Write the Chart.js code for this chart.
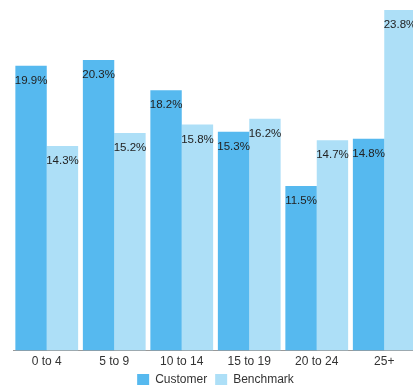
<!DOCTYPE html>
<html>
<head>
<meta charset="utf-8">
<script src="https://cdn.jsdelivr.net/npm/chart.js@4/dist/chart.umd.min.js"></script>
<style>
  html, body { margin: 0; padding: 0; background: #fff; overflow: hidden; }
  #wrap { width: 418px; height: 385px; }
</style>
</head>
<body>
<div id="wrap"><canvas id="barChart" width="418" height="385"></canvas></div>
<script>
// Datos
const categories = ["0 to 4", "5 to 9", "10 to 14", "15 to 19", "20 to 24", "25+"];
const customer = [19.9, 20.3, 18.2, 15.3, 11.5, 14.8];
const benchmark = [14.3, 15.2, 15.8, 16.2, 14.7, 23.8];

// Etiquetas de porcentaje dentro de cada barra
const valueLabels = {
    id: 'valueLabels',
    afterDatasetsDraw(chart) {
        const ctx = chart.ctx;
        ctx.save();
        ctx.font = '11.5px "Liberation Sans", Arial, sans-serif';
        ctx.fillStyle = '#222';
        ctx.textAlign = 'center';
        ctx.textBaseline = 'middle';
        chart.data.datasets.forEach((ds, i) => {
            chart.getDatasetMeta(i).data.forEach((bar, j) => {
                ctx.fillText(ds.data[j].toFixed(1) + '%', bar.x, bar.y + 15);
            });
        });
        ctx.restore();
    }
};

const config = {
    type: 'bar',
    data: {
        labels: categories,
        datasets: [
            { label: 'Customer', data: customer, backgroundColor: '#56b9ef' },
            { label: 'Benchmark', data: benchmark, backgroundColor: '#addff7' }
        ]
    },
    options: {
        responsive: false,
        animation: false,
        layout: { padding: { left: 13, right: 0, top: 0, bottom: -11 } },
        datasets: { bar: { categoryPercentage: 0.93, barPercentage: 1.0 } },
        scales: {
            x: {
                grid: { display: false, drawTicks: false },
                border: { display: true, color: '#999' },
                ticks: { color: '#333', font: { size: 12, lineHeight: 1.2, family: '"Liberation Sans", Arial, sans-serif' }, padding: 4 },
                afterFit(scale) { scale.height -= 7; }
            },
            y: { display: false, min: 0, max: 24.5 }
        },
        plugins: {
            legend: {
                position: 'bottom',
                labels: {
                    boxWidth: 12, boxHeight: 12, padding: 8,
                    color: '#333',
                    font: { size: 12, family: '"Liberation Sans", Arial, sans-serif' }
                }
            },
            tooltip: { enabled: false }
        }
    },
    plugins: [valueLabels]
};

const ctx = document.getElementById('barChart').getContext('2d');
const myChart = new Chart(ctx, config);
</script>
</body>
</html>
